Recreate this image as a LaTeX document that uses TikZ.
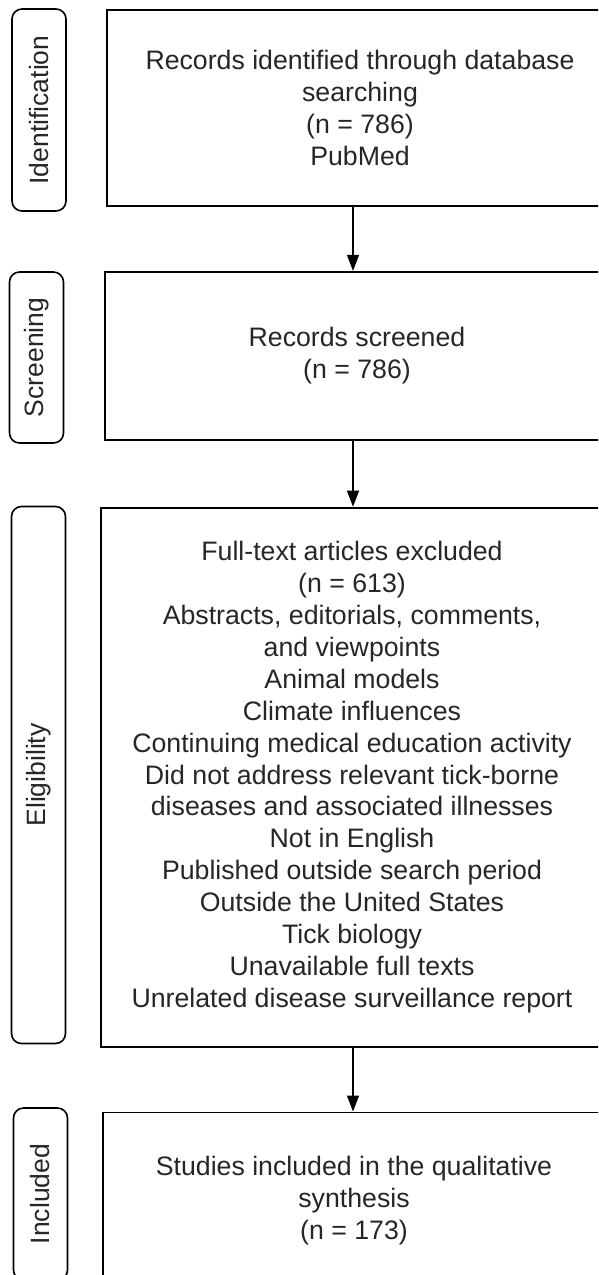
\documentclass[tikz,border=0pt]{standalone}
\usepackage{fontspec}
\setmainfont{Liberation Sans}
\usetikzlibrary{positioning, arrows.meta}

\begin{document}
\begin{tikzpicture}[x=1pt, y=-1pt,
    stage/.style={rectangle, draw, rounded corners=10pt, line width=1.6pt, minimum height=54pt, inner sep=0pt, rotate=90, font=\fontsize{26.5}{31.9}\selectfont, text=black!85},
    flowbox/.style={rectangle, draw, line width=1.8pt, align=center, inner sep=0pt, font=\fontsize{26.7}{31.9}\selectfont, text=black!85},
    arrow/.style={-{Triangle[length=16pt, width=12pt]}, line width=1.3pt}
]
\clip[use as bounding box] (0,0) rectangle (598,1275);

\node[flowbox, minimum width=506pt, minimum height=196pt] (records) at (360,108) {Records identified through database\\searching\\(n = 786)\\PubMed};
\node[flowbox, minimum width=504pt, minimum height=168pt, below=64pt of records, xshift=-3pt] (screened) {Records screened\\(n = 786)};
\node[flowbox, minimum width=502pt, minimum height=539pt, below=66pt of screened, xshift=-5pt] (excluded) {Full-text articles excluded\\(n = 613)\\Abstracts, editorials, comments,\\and viewpoints\\Animal models\\Climate influences\\Continuing medical education activity\\Did not address relevant tick-borne\\diseases and associated illnesses\\Not in English\\Published outside search period\\Outside the United States\\Tick biology\\Unavailable full texts\\Unrelated disease surveillance report};
\node[flowbox, minimum width=502pt, minimum height=176pt, below=64pt of excluded, xshift=2pt] (included) {Studies included in the qualitative\\synthesis\\(n = 173)};

\node[stage, minimum width=202pt] (identification) at (39,110) {Identification};
\node[stage, minimum width=171pt] (screening) at (36.5,357.5) {Screening};
\node[stage, minimum width=537pt] (eligibility) at (38.5,775) {Eligibility};
\node[stage, minimum width=172pt] (inclusion) at (40.5,1194) {Included};

\coordinate (spine) at (353,0);
\foreach \source/\dest in {records/screened, screened/excluded, excluded/included}
    \draw[arrow] (\source.south -| spine) -- (\dest.north -| spine);

\end{tikzpicture}
\end{document}
